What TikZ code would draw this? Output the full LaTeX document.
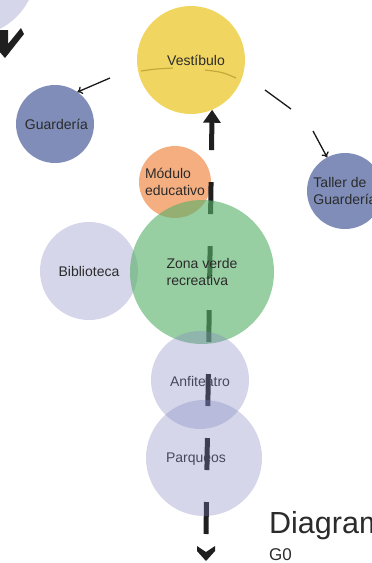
\documentclass[tikz,border=0pt]{standalone}
\usepackage{fontspec}
\setmainfont{Liberation Sans}
\usetikzlibrary{arrows.meta}
\definecolor{plnYellow}{HTML}{F0D660}
\definecolor{plnGold}{HTML}{C4A93A}
\definecolor{plnNavy}{HTML}{7F8DB8}
\definecolor{plnOrange}{HTML}{F5AE80}
\definecolor{plnGreen}{HTML}{59B169}
\definecolor{plnLav}{HTML}{8083C0}
\definecolor{plnInk}{HTML}{2B2B2B}

\begin{document}
\begin{tikzpicture}[x=1pt,y=-1pt,
  zone/.style={circle,inner sep=0pt,outer sep=0pt,text=plnInk,align=left,
               font=\fontsize{14}{17}\selectfont},
  faded/.style={zone,fill=plnLav,fill opacity=0.33,text opacity=1},
  zonelabel/.style={inner sep=0pt,text=plnInk,font=\fontsize{14}{17}\selectfont},
  linkline/.style={line width=1.3pt,draw=black!90},
  chevron/.style={fill=black!88,draw=none}]
  \clip (0,0) rectangle (372,563);

  % upper zones
  \node[faded,minimum size=132pt] (prev) at (-30,-30) {};
  \fill[chevron] (-2,30) -- (8,30) -- (8,44) -- (21,28) -- (24,34) -- (5,58) -- (-2,50) -- cycle;
  \node[zone,fill=plnYellow,minimum size=108pt] (vest) at (191,60) {\hspace{10pt}Vestíbulo};
  \draw[plnGold,line width=1.2pt] (141,71) .. controls (155,69) .. (173,68);
  \draw[plnGold,line width=1.2pt] (205,70) .. controls (222,72) .. (236,78);
  \node[zone,fill=plnNavy,minimum size=78pt] (guard) at (55,124) {\hspace{3pt}Guardería};
  \node[zone,fill=plnNavy,minimum size=76pt] (taller) at (345,191) {Taller de\\Guardería};
  \node[zone,fill=plnOrange,minimum size=72pt] (modulo) at (175,182) {Módulo\\educativo};
  \node[faded,minimum size=98pt] (biblio) at (89,271) {Biblioteca};

  % links from the lobby
  \coordinate (g1) at (110,78);
  \draw[linkline,-{To[length=5pt,width=8pt]}] (g1) -- (guard.55);
  \coordinate (t1) at (265,90);
  \coordinate (t2) at (291,109);
  \coordinate (t3) at (313,131);
  \draw[linkline] (t1) -- (t2);
  \draw[linkline,-{To[length=5pt,width=8pt]}] (t3) -- (taller.118);

  % lower zones
  \node[zonelabel] (anfitxt) at (200,381) {Anfiteatro};
  \node[zonelabel] (parqtxt) at (196,459) {Parqueos};
  \coordinate (src) at (206,534);
  \draw[line width=5pt,draw=black!88,dash pattern=on 32pt off 32pt,
        -{Triangle[length=13pt,width=17pt]}] (src) -- (vest.-67);
  \node[zone,fill=plnGreen,fill opacity=0.62,text opacity=1,minimum size=144pt]
    (verde) at (202,272) {Zona verde\\recreativa};
  \node[faded,minimum size=98pt] (anfi) at (200,380) {};
  \node[faded,minimum size=116pt] (parq) at (204,458) {};
  \fill[chevron] (197,546) -- (206,552) -- (215,546) -- (215,551) -- (206,561) -- (197,551) -- cycle;

  % caption
  \node[anchor=base west,inner sep=0pt,text=plnInk,font=\fontsize{30.5}{33}\selectfont]
    (title) at (269,533) {Diagram};
  \node[anchor=base west,inner sep=0pt,text=plnInk,font=\fontsize{17}{19}\selectfont]
    (code) at (269,560) {G0};
\end{tikzpicture}
\end{document}
